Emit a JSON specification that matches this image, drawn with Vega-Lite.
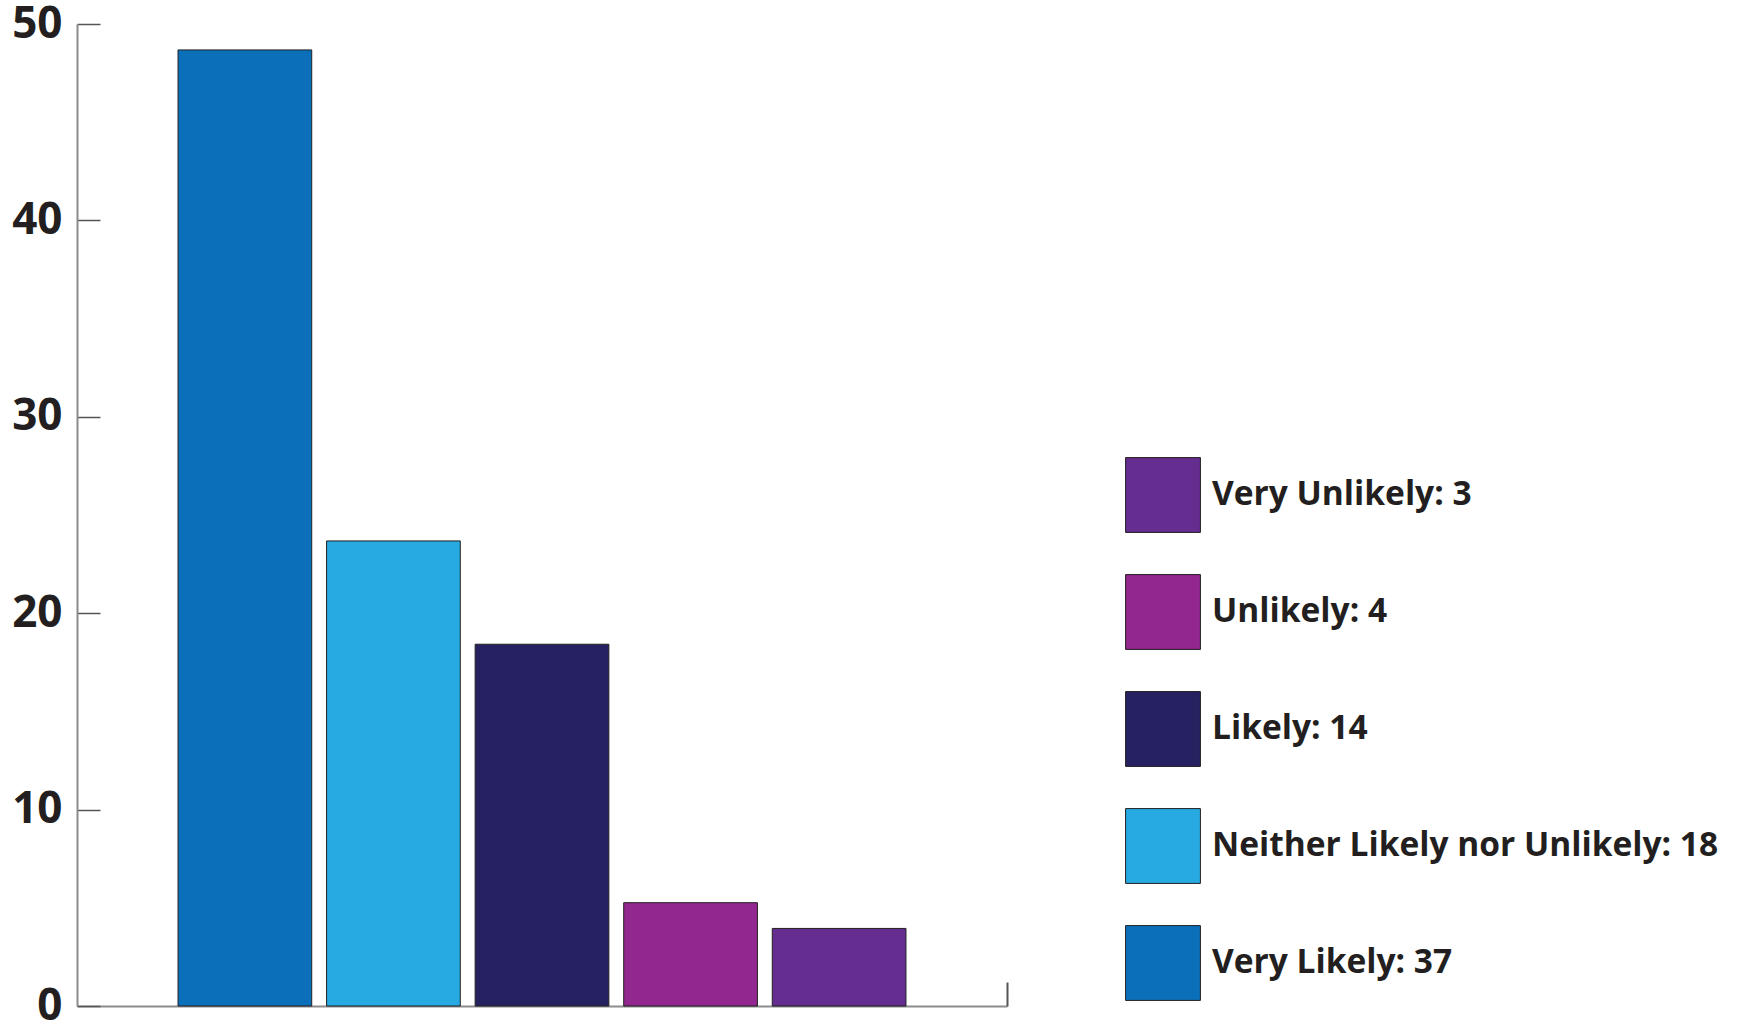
{
  "$schema": "https://vega.github.io/schema/vega-lite/v6.json",
  "width": 930,
  "height": 982,
  "autosize": {"type": "none"},
  "padding": {"left": 77, "top": 24, "right": 730, "bottom": 19},
  "background": "white",
  "config": {"view": {"stroke": null}, "font": "Open Sans"},
  "data": {
    "values": [
      {"response": "Very Likely", "label": "Very Likely: 37", "count": 37, "percent": 48.68},
      {"response": "Neither Likely nor Unlikely", "label": "Neither Likely nor Unlikely: 18", "count": 18, "percent": 23.68},
      {"response": "Likely", "label": "Likely: 14", "count": 14, "percent": 18.42},
      {"response": "Unlikely", "label": "Unlikely: 4", "count": 4, "percent": 5.26},
      {"response": "Very Unlikely", "label": "Very Unlikely: 3", "count": 3, "percent": 3.95}
    ]
  },
  "encoding": {
    "x": {
      "field": "response",
      "type": "nominal",
      "sort": null,
      "scale": {"paddingInner": 0.1, "paddingOuter": 0.68},
      "axis": {
        "title": null,
        "labels": false,
        "ticks": false,
        "domain": true,
        "domainColor": "#8c8c8c",
        "domainWidth": 2
      }
    }
  },
  "layer": [
    {
      "mark": {"type": "bar", "stroke": "#231f20", "strokeWidth": 1},
      "encoding": {
        "y": {
          "field": "percent",
          "type": "quantitative",
          "scale": {"domain": [0, 50], "nice": false},
          "axis": {
            "title": null,
            "values": [0, 10, 20, 30, 40, 50],
            "tickSize": -23,
            "tickWidth": 1.5,
            "tickColor": "#555555",
            "domainColor": "#8c8c8c",
            "domainWidth": 2,
            "grid": false,
            "labelFont": "Open Sans",
            "labelFontSize": 44,
            "labelFontWeight": "bold",
            "labelColor": "#231f20",
            "labelPadding": 38
          }
        },
        "color": {
          "field": "label",
          "type": "nominal",
          "scale": {
            "domain": ["Very Unlikely: 3", "Unlikely: 4", "Likely: 14", "Neither Likely nor Unlikely: 18", "Very Likely: 37"],
            "range": ["#662d91", "#92278f", "#262262", "#27aae1", "#0b70b9"]
          },
          "legend": {
            "title": null,
            "orient": "none",
            "legendX": 1048,
            "legendY": 433,
            "symbolType": "square",
            "symbolSize": 5600,
            "symbolStrokeColor": "#231f20",
            "symbolStrokeWidth": 1,
            "symbolOpacity": 1,
            "labelFont": "Open Sans",
            "labelFontSize": 33.5,
            "labelFontWeight": "bold",
            "labelColor": "#231f20",
            "labelOffset": 11,
            "labelLimit": 700,
            "rowPadding": 37
          }
        }
      }
    },
    {
      "mark": {"type": "bar", "fillOpacity": 0, "strokeOpacity": 0},
      "encoding": {
        "y": {
          "field": "percent",
          "type": "quantitative",
          "scale": {"domain": [0, 50], "nice": false},
          "axis": {
            "title": null,
            "orient": "right",
            "labels": false,
            "ticks": false,
            "grid": false,
            "domainColor": "#555555",
            "domainWidth": 2,
            "domainDash": [24, 3000]
          }
        }
      }
    }
  ],
  "resolve": {"axis": {"y": "independent"}}
}
